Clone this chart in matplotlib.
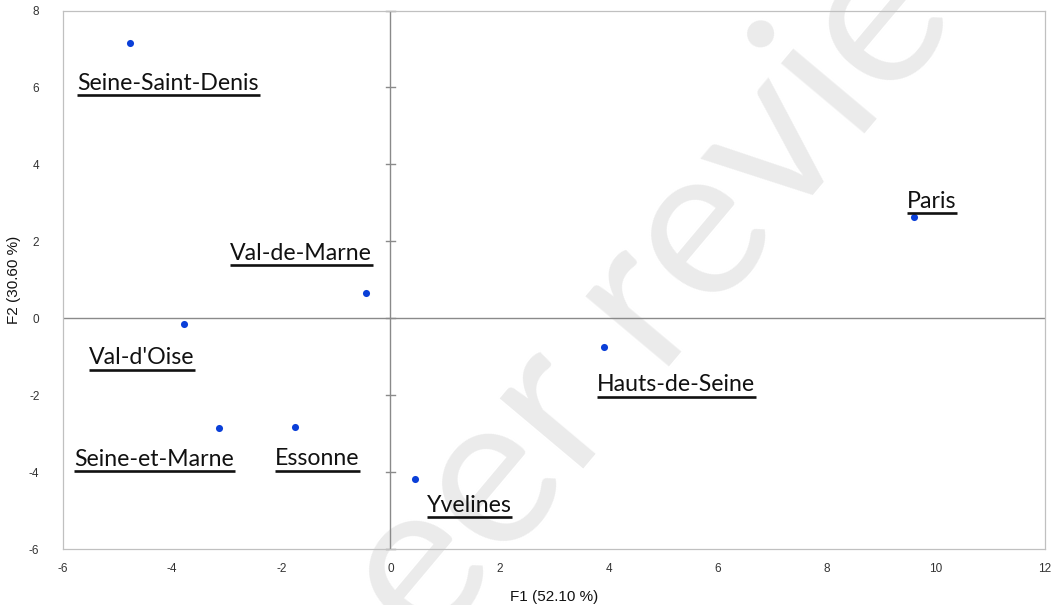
import matplotlib
matplotlib.use("Agg")
import matplotlib.pyplot as plt
from matplotlib.lines import Line2D
from matplotlib.ticker import FixedFormatter
from matplotlib import font_manager

# ---- data ----
departments = ["Seine-Saint-Denis", "Val-de-Marne", "Val-d'Oise", "Seine-et-Marne",
               "Essonne", "Yvelines", "Hauts-de-Seine", "Paris"]
f1 = [-4.77, -0.45, -3.78, -3.14, -1.75, 0.45, 3.91, 9.60]
f2 = [7.16, 0.67, -0.15, -2.84, -2.81, -4.17, -0.75, 2.63]
x_ticks = [-6, -4, -2, 0, 2, 4, 6, 8, 10, 12]
y_ticks = [-6, -4, -2, 0, 2, 4, 6, 8]
x_tick_labels = ["-6", "-4", "-2", "0", "2", "4", "6", "8", "10", "12"]
y_tick_labels = ["-6", "-4", "-2", "0", "2", "4", "6", "8"]
x_label = "F1 (52.10 %)"
y_label = "F2 (30.60 %)"

# ---- layout (label anchor: left x, baseline y in data units) ----
label_pos = [(-5.74, 5.94), (-2.94, 1.53), (-5.53, -1.19), (-5.80, -3.83),
             (-2.12, -3.81), (0.665, -5.03), (3.78, -1.89), (9.47, 2.88)]

avail = {f.name for f in font_manager.fontManager.ttflist}
label_font = "Lato" if "Lato" in avail else "DejaVu Sans"
tick_font = "Liberation Sans"

fig = plt.figure(figsize=(10.57, 6.05), dpi=100)

# background layer for the watermark
bg = fig.add_axes([0, 0, 1, 1], zorder=0)
bg.set_axis_off()
bg.text(0.672, 0.475, "peer review", rotation=50, fontsize=155, color="#ebebeb",
        ha="center", va="baseline", family=label_font, transform=bg.transAxes,
        rotation_mode="anchor")

ax = fig.add_axes([63/1057, (605-549.3)/605, (1045-63)/1057, (549.3-10.5)/605], zorder=1)
ax.set_facecolor("none")
ax.set_xlim(-6, 12)
ax.set_ylim(-6, 8)

for s in ax.spines.values():
    s.set_color("#c0c0c0")
    s.set_linewidth(0.9)

ax.set_xticks(x_ticks)
ax.set_yticks(y_ticks)
ax.xaxis.set_major_formatter(FixedFormatter(x_tick_labels))
ax.yaxis.set_major_formatter(FixedFormatter(y_tick_labels))
ax.tick_params(length=0, labelsize=8.5, labelcolor="#333333")
ax.tick_params(axis="y", pad=17)
ax.tick_params(axis="x", pad=10)
for lab in ax.get_xticklabels() + ax.get_yticklabels():
    lab.set_fontfamily(tick_font)
ax.set_xlabel(x_label, fontsize=11, family="Liberation Sans", labelpad=11, color="#111111")
ax.set_ylabel(y_label, fontsize=11, family="Liberation Sans", labelpad=6, color="#111111")

# zero axes
ax.axhline(0, color="#8a8a8a", lw=1.0, zorder=1)
ax.axvline(0, color="#8a8a8a", lw=1.0, zorder=1)
# small cross ticks on vertical zero line
tick_half = 0.08
for yv in y_ticks:
    ax.plot([-tick_half, tick_half], [yv, yv], color="#8a8a8a", lw=1.0, zorder=1,
            clip_on=False)

ax.scatter(f1, f2, s=26, color="#0a3fd8", zorder=3, linewidths=0)

texts = []
for name, (lx, ly) in zip(departments, label_pos):
    t = ax.text(lx, ly, name, fontsize=16, family=label_font, color="#111111",
                ha="left", va="baseline", zorder=4)
    texts.append(t)

fig.canvas.draw()
r = fig.canvas.get_renderer()
# fit fontsize so "Seine-Saint-Denis" spans ~182 px
w = texts[0].get_window_extent(r).width
fs = 16 * 182.0 / w
for t in texts:
    t.set_fontsize(fs)
fig.canvas.draw()

inv = fig.transFigure.inverted()
for t, (lx, ly) in zip(texts, label_pos):
    bb = t.get_window_extent(r)
    _, by = ax.transData.transform((lx, ly))
    yu = by - 5.5
    p0 = inv.transform((bb.x0, yu))
    p1 = inv.transform((bb.x1 + 1, yu))
    fig.add_artist(Line2D([p0[0], p1[0]], [p0[1], p1[1]], color="#111111", lw=1.9,
                          solid_capstyle="butt", zorder=5))

fig.savefig("out.png", dpi=100)
